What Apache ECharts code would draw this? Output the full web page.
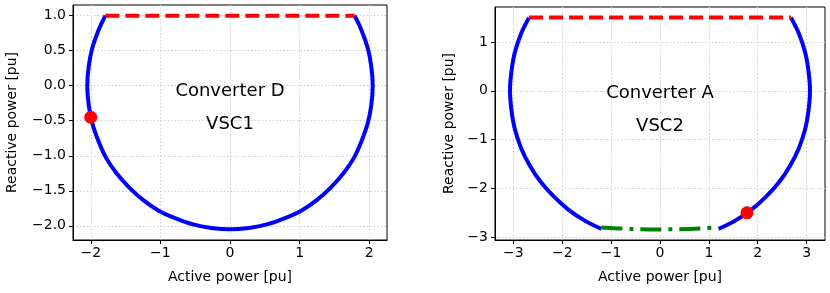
<!DOCTYPE html>
<html>
<head>
<meta charset="utf-8">
<script src="https://cdn.jsdelivr.net/npm/echarts@6/dist/echarts.min.js"></script>
<style>
  html, body { margin: 0; padding: 0; background: #fff; }
  #chart { width: 830px; height: 293px; }
</style>
</head>
<body>
<div id="chart"></div>
<script>
// 左图：Converter D / VSC1
const dArc = [
  [-1.79, 1.0], [-1.89, 0.79], [-1.98, 0.53], [-2.03, 0.27], [-2.05, 0.0],
  [-2.03, -0.27], [-1.98, -0.53], [-1.89, -0.79], [-1.78, -1.03], [-1.63, -1.25],
  [-1.45, -1.45], [-1.25, -1.63], [-1.03, -1.78], [-0.79, -1.89], [-0.53, -1.98],
  [-0.27, -2.03], [0.0, -2.05], [0.27, -2.03], [0.53, -1.98], [0.79, -1.89],
  [1.03, -1.78], [1.25, -1.63], [1.45, -1.45], [1.63, -1.25], [1.78, -1.03],
  [1.89, -0.79], [1.98, -0.53], [2.03, -0.27], [2.05, 0.0], [2.03, 0.27],
  [1.98, 0.53], [1.89, 0.79], [1.79, 1.0]
];
const dLimit = [[-1.79, 1.0], [1.79, 1.0]];
const dPoint = [[-2.0, -0.45]];

// 右图：Converter A / VSC2
const aArcLeft = [
  [-2.68, 1.5], [-2.84, 1.18], [-2.97, 0.79], [-3.04, 0.4], [-3.07, 0.0],
  [-3.04, -0.4], [-2.97, -0.79], [-2.84, -1.18], [-2.66, -1.54], [-2.44, -1.87],
  [-2.17, -2.17], [-1.87, -2.44], [-1.54, -2.66], [-1.2, -2.83]
];
const aArcRight = [
  [1.2, -2.83], [1.54, -2.66], [1.87, -2.44], [2.17, -2.17], [2.44, -1.87],
  [2.66, -1.54], [2.84, -1.18], [2.97, -0.79], [3.04, -0.4], [3.07, 0.0],
  [3.04, 0.4], [2.97, 0.79], [2.84, 1.18], [2.68, 1.5]
];
const aBottom = [[-1.2, -2.8], [-0.6, -2.83], [0.0, -2.84], [0.6, -2.83], [1.2, -2.8]];
const aLimit = [[-2.68, 1.5], [2.68, 1.5]];
const aPoint = [[1.78, -2.5]];

// 刻度
const dXTicks = [-2, -1, 0, 1, 2];
const dYTicks = [-2.0, -1.5, -1.0, -0.5, 0.0, 0.5, 1.0];
const aXTicks = [-3, -2, -1, 0, 1, 2, 3];
const aYTicks = [-3, -2, -1, 0, 1];

const font = "DejaVu Sans";
const minus = (s) => s.replace("-", "\u2212");

function xAxis(idx, min, max, ticks) {
  return {
    type: "value", gridIndex: idx, min, max,
    name: "Active power [pu]", nameLocation: "middle", nameGap: 30,
    nameTextStyle: { fontFamily: font, fontSize: 14, color: "#000" },
    axisLine: { show: true, onZero: false, lineStyle: { color: "#000" } },
    axisTick: { show: true, customValues: ticks, length: 4, lineStyle: { color: "#000" } },
    axisLabel: { customValues: ticks, margin: 6, fontFamily: font, fontSize: 14, color: "#000",
      formatter: (v) => minus(String(v)) },
    splitLine: { show: true, lineStyle: { color: "#cfcfcf", type: [1.5, 2] } },
  };
}

function yAxis(idx, min, max, ticks, gap, digits) {
  return {
    type: "value", gridIndex: idx, min, max,
    name: "Reactive power [pu]", nameLocation: "middle", nameGap: gap,
    nameTextStyle: { fontFamily: font, fontSize: 14, color: "#000" },
    axisLine: { show: true, onZero: false, lineStyle: { color: "#000" } },
    axisTick: { show: true, customValues: ticks, length: 4, lineStyle: { color: "#000" } },
    axisLabel: { customValues: ticks, margin: 7, fontFamily: font, fontSize: 14, color: "#000",
      formatter: (v) => minus(v.toFixed(digits)) },
    splitLine: { show: true, lineStyle: { color: "#cfcfcf", type: [1.5, 2] } },
  };
}

// 曲线用 custom 画一条平滑折线（line 系列的 smooth 会把控制点夹住，圆弧出现折角）
function curve(idx, data, color, dash) {
  return {
    type: "custom", xAxisIndex: idx, yAxisIndex: idx, data,
    encode: { x: 0, y: 1 }, silent: true, z: 2,
    renderItem: (params, api) => {
      if (params.dataIndex !== 0) return;
      return {
        type: "polyline",
        shape: { points: data.map((p) => api.coord(p)), smooth: 0.33 },
        style: { stroke: color, lineWidth: 4, fill: null, lineDash: dash, lineCap: "butt" },
      };
    },
  };
}

function line(idx, data, color, type) {
  return {
    type: "line", xAxisIndex: idx, yAxisIndex: idx, data,
    showSymbol: false, silent: true, z: 3,
    lineStyle: { color, width: 4, type, cap: "butt" },
  };
}

function dot(idx, data) {
  return {
    type: "scatter", xAxisIndex: idx, yAxisIndex: idx, data,
    symbolSize: 13, itemStyle: { color: "#ff0000", opacity: 1 }, z: 5,
  };
}

function note(idx, pos, text) {
  return {
    type: "scatter", xAxisIndex: idx, yAxisIndex: idx, data: [pos],
    symbolSize: 0, silent: true, itemStyle: { opacity: 1 },
    label: { show: true, position: "inside", formatter: text,
      fontFamily: font, fontSize: 18, lineHeight: 33, color: "#000" },
  };
}

const myChart = echarts.init(document.getElementById("chart"));
myChart.setOption({
  animation: false,
  grid: [
    { left: 73, right: 443, top: 5, bottom: 53, show: true, borderColor: "#000", borderWidth: 1 },
    { left: 495, right: 5, top: 7, bottom: 53, show: true, borderColor: "#000", borderWidth: 1 },
  ],
  xAxis: [xAxis(0, -2.255, 2.255, dXTicks), xAxis(1, -3.377, 3.377, aXTicks)],
  yAxis: [yAxis(0, -2.2025, 1.1525, dYTicks, 54, 1), yAxis(1, -3.057, 1.717, aYTicks, 39, 0)],
  series: [
    curve(0, dArc, "#0000ff", null),
    line(0, dLimit, "#ff0000", [14, 6]),
    dot(0, dPoint),
    note(0, [0, -0.31], "Converter D\nVSC1"),
    curve(1, aArcLeft, "#0000ff", null),
    curve(1, aArcRight, "#0000ff", null),
    curve(1, aBottom, "#008000", [21, 7, 4, 7]),
    line(1, aLimit, "#ff0000", [14, 6]),
    dot(1, aPoint),
    note(1, [0, -0.38], "Converter A\nVSC2"),
  ],
});
</script>
</body>
</html>
